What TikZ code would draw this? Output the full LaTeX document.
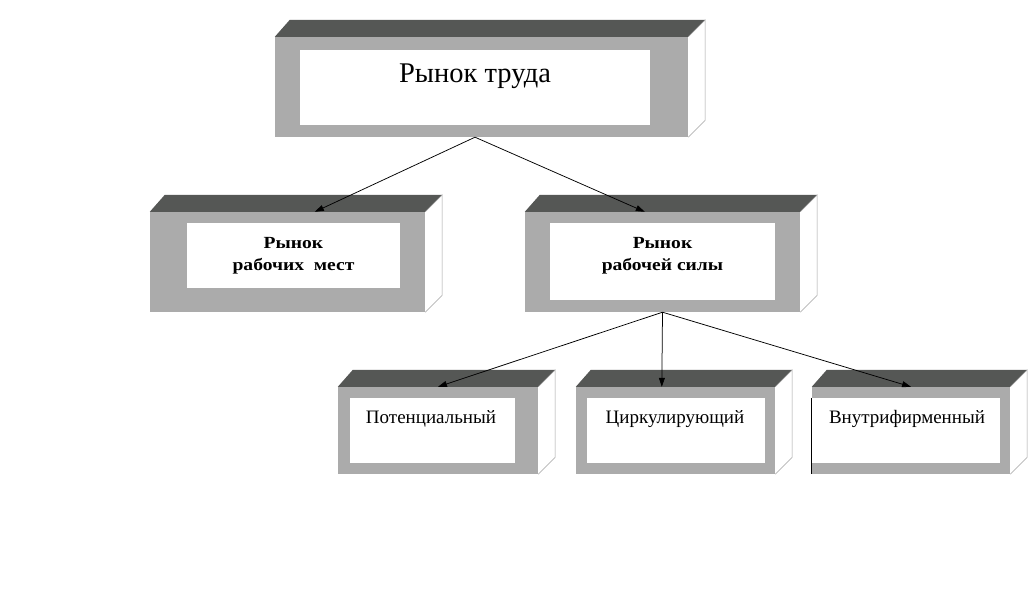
\documentclass[tikz,border=0pt]{standalone}
\usepackage{fontspec}
\setmainfont{Liberation Serif}
\newfontfamily\widebold[FakeStretch=1.15]{Liberation Serif Bold}
\usetikzlibrary{arrows.meta}
\definecolor{frontc}{RGB}{171,171,171}
\definecolor{topface}{RGB}{85,87,85}
\definecolor{sideline}{RGB}{160,160,160}
\tikzset{
  front/.style={draw=none, fill=frontc, inner sep=0pt},
  innerbox/.style={draw=none, fill=white, inner sep=0pt},
  lbl/.style={inner sep=0pt, font=\fontsize{19}{23}\selectfont},
  blbl/.style={inner sep=0pt, align=center, font=\widebold\fontsize{17}{22}\selectfont},
  arr/.style={draw=black, line width=0.75pt, -{Triangle[length=9pt,width=6pt]}},
}
\newcommand\brick[4]{%
  \node[front, minimum width=#3, minimum height=#4] (#1) at (#2) {};
  \fill[topface] (#1.north west) -- ++(15,-17) -- ([shift={(17,-17)}]#1.north east) -- (#1.north east) -- cycle;
  \draw[sideline, line width=0.5pt] (#1.north east) -- ++(17,-17) -- ([shift={(17,-17)}]#1.south east) -- (#1.south east);
}
\begin{document}
\begin{tikzpicture}[x=1pt,y=-1pt]
\useasboundingbox[fill=white] (0,0) rectangle (1030,600);
% boxes
\brick{T}{481.5,87}{413pt}{100pt}
\node[innerbox, minimum width=350pt, minimum height=75pt] (Ti) at (475,87.5) {};
\node[lbl, anchor=base, font=\fontsize{28.5}{34}\selectfont] (Tt) at (475,82) {Рынок труда};

\brick{A}{287.5,262}{275pt}{100pt}
\node[innerbox, minimum width=213pt, minimum height=65pt] (Ai) at (293.5,255.5) {};
\node[blbl] (At) at (293.5,256) {Рынок\\рабочих\ \ мест};

\brick{B}{662.5,262}{275pt}{100pt}
\node[innerbox, minimum width=225pt, minimum height=77pt] (Bi) at (662.5,261.5) {};
\node[blbl] (Bt) at (662.5,256) {Рынок\\рабочей силы};

\brick{C}{438,430.5}{200pt}{87pt}
\node[innerbox, minimum width=165pt, minimum height=65pt] (Ci) at (432.5,430.5) {};
\node[lbl, anchor=base] (Ct) at (431,423) {Потенциальный};

\brick{D}{675.5,430.5}{199pt}{87pt}
\node[innerbox, minimum width=178pt, minimum height=65pt] (Di) at (676,430.5) {};
\node[lbl, anchor=base] (Dt) at (675,423) {Циркулирующий};

\brick{E}{911,430.5}{198pt}{87pt}
\node[innerbox, minimum width=188pt, minimum height=65pt] (Ei) at (906,430.5) {};
\draw[black, line width=0.8pt] (Ei.north west) -- (E.south west);
\node[lbl, anchor=base] (Et) at (907,423) {Внутрифирменный};

% connectors
\draw[arr] ([xshift=-6.5pt]T.south) -- ([xshift=165pt]A.north west);
\draw[arr] ([xshift=-6.5pt]T.south) -- ([xshift=120pt]B.north west);
\draw[arr] (B.south) -- (C.north);
\draw[arr] (B.south) -- ([xshift=86pt]D.north west);
\draw[arr] (B.south) -- (E.north);
\end{tikzpicture}
\end{document}
